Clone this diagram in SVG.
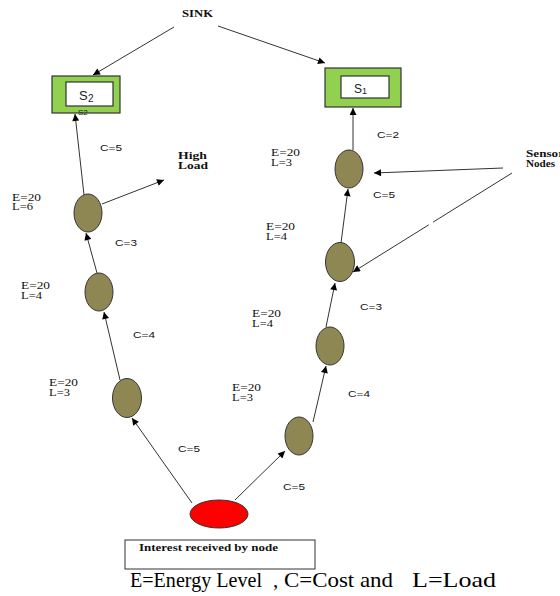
<svg xmlns="http://www.w3.org/2000/svg" width="560" height="596" viewBox="0 0 560 596">
<style>
.edge{stroke:#333;stroke-width:1;fill:none;marker-end:url(#ah)}
.sensor{fill:#8f8753;stroke:#333;stroke-width:1}
.src{fill:#ff0000;stroke:#333;stroke-width:1}
.sink{fill:#92d050;stroke:#333;stroke-width:1.2}
.inner{fill:#fff;stroke:#333;stroke-width:1.2}
.el{font-family:"Liberation Serif",serif;font-size:9.5px;fill:#111}
.c{font-family:"Liberation Sans",sans-serif;font-size:8.5px;fill:#111}
.b{font-family:"Liberation Serif",serif;font-size:9.5px;font-weight:bold;fill:#111}
.s{font-family:"Liberation Sans",sans-serif;fill:#222}
.cap{font-family:"Liberation Serif",serif;font-size:21px;fill:#000}
</style>
<defs>
<marker id="ah" viewBox="0 0 10 10" refX="10" refY="5" markerWidth="9" markerHeight="7" markerUnits="userSpaceOnUse" orient="auto">
<path d="M0,0 L10,5 L0,10 z" fill="#000"/>
</marker>
</defs>
<rect width="560" height="596" fill="#fff"/>

<g id="connectors">
<line class="edge" x1="174" y1="27" x2="93" y2="75"/>
<line class="edge" x1="218" y1="26" x2="325" y2="63"/>
<line class="edge" x1="84" y1="195" x2="75" y2="114"/>
<line class="edge" x1="102" y1="204" x2="164" y2="180"/>
<line class="edge" x1="97" y1="273" x2="86" y2="233"/>
<line class="edge" x1="120" y1="380" x2="104" y2="312"/>
<line class="edge" x1="192" y1="503" x2="132" y2="418"/>
<line class="edge" x1="235" y1="500" x2="285" y2="451"/>
<line class="edge" x1="313" y1="422" x2="326" y2="366"/>
<line class="edge" x1="326" y1="327" x2="335" y2="283"/>
<line class="edge" x1="341" y1="243" x2="348" y2="189"/>
<line class="edge" x1="353" y1="150" x2="353" y2="108"/>
<line class="edge" x1="503" y1="168" x2="374" y2="173"/>
<line class="edge" x1="512" y1="173" x2="353" y2="272" stroke-dasharray="93 5 200"/>
</g>

<g id="sink-label"><text class="b" x="182" y="17" textLength="31" lengthAdjust="spacingAndGlyphs">SINK</text></g>

<g id="S2">
<rect class="sink" x="52" y="76" width="68" height="37"/>
<rect class="inner" x="66" y="82" width="47" height="24"/>
<text class="s" x="79" y="100" font-size="13">S</text>
<text class="s" x="88" y="102" font-size="10">2</text>
<text class="s" x="78" y="115" font-size="8" fill="#555">S2</text>
</g>

<g id="S1">
<rect class="sink" x="325" y="68" width="76" height="39"/>
<rect class="inner" x="341" y="76" width="48" height="22"/>
<text class="s" x="354" y="93" font-size="12">S</text>
<text class="s" x="362" y="94" font-size="9">1</text>
</g>

<g id="L1"><ellipse class="sensor" cx="88" cy="213" rx="14" ry="19"/></g>
<g id="L2"><ellipse class="sensor" cx="99" cy="292" rx="14" ry="19"/></g>
<g id="L3"><ellipse class="sensor" cx="127" cy="398" rx="14.5" ry="19.5"/></g>
<g id="R1"><ellipse class="sensor" cx="299" cy="436" rx="14" ry="19"/></g>
<g id="R2"><ellipse class="sensor" cx="330" cy="346" rx="14" ry="19"/></g>
<g id="R3"><ellipse class="sensor" cx="340" cy="262" rx="14.5" ry="19.5"/></g>
<g id="R4"><ellipse class="sensor" cx="349" cy="169" rx="14" ry="19"/></g>
<g id="source"><ellipse class="src" cx="219" cy="514" rx="29" ry="14"/></g>

<g id="high-load">
<text class="b" x="178" y="159" textLength="29" lengthAdjust="spacingAndGlyphs">High</text>
<text class="b" x="178" y="169" textLength="30" lengthAdjust="spacingAndGlyphs">Load</text>
</g>

<g id="sensor-nodes">
<text class="b" x="526" y="157" textLength="38" lengthAdjust="spacingAndGlyphs">Sensor</text>
<text class="b" x="526" y="167" textLength="29" lengthAdjust="spacingAndGlyphs">Nodes</text>
</g>

<g id="labels">
<text class="c" x="100" y="151" textLength="22" lengthAdjust="spacingAndGlyphs">C=5</text>
<text class="el" x="12" y="201" textLength="29" lengthAdjust="spacingAndGlyphs">E=20</text>
<text class="el" x="12" y="210" textLength="21" lengthAdjust="spacingAndGlyphs">L=6</text>
<text class="c" x="115" y="246" textLength="22" lengthAdjust="spacingAndGlyphs">C=3</text>
<text class="el" x="21" y="289" textLength="29" lengthAdjust="spacingAndGlyphs">E=20</text>
<text class="el" x="21" y="299" textLength="21" lengthAdjust="spacingAndGlyphs">L=4</text>
<text class="c" x="133" y="338" textLength="22" lengthAdjust="spacingAndGlyphs">C=4</text>
<text class="el" x="49" y="386" textLength="29" lengthAdjust="spacingAndGlyphs">E=20</text>
<text class="el" x="49" y="396" textLength="21" lengthAdjust="spacingAndGlyphs">L=3</text>
<text class="c" x="178" y="452" textLength="22" lengthAdjust="spacingAndGlyphs">C=5</text>

<text class="c" x="377" y="138" textLength="22" lengthAdjust="spacingAndGlyphs">C=2</text>
<text class="el" x="271" y="156" textLength="29" lengthAdjust="spacingAndGlyphs">E=20</text>
<text class="el" x="271" y="166" textLength="21" lengthAdjust="spacingAndGlyphs">L=3</text>
<text class="c" x="373" y="198" textLength="22" lengthAdjust="spacingAndGlyphs">C=5</text>
<text class="el" x="266" y="230" textLength="29" lengthAdjust="spacingAndGlyphs">E=20</text>
<text class="el" x="266" y="240" textLength="21" lengthAdjust="spacingAndGlyphs">L=4</text>
<text class="c" x="360" y="310" textLength="22" lengthAdjust="spacingAndGlyphs">C=3</text>
<text class="el" x="252" y="317" textLength="29" lengthAdjust="spacingAndGlyphs">E=20</text>
<text class="el" x="252" y="327" textLength="21" lengthAdjust="spacingAndGlyphs">L=4</text>
<text class="c" x="348" y="397" textLength="22" lengthAdjust="spacingAndGlyphs">C=4</text>
<text class="el" x="232" y="391" textLength="29" lengthAdjust="spacingAndGlyphs">E=20</text>
<text class="el" x="232" y="401" textLength="21" lengthAdjust="spacingAndGlyphs">L=3</text>
<text class="c" x="283" y="490" textLength="22" lengthAdjust="spacingAndGlyphs">C=5</text>
</g>

<g id="interest">
<rect x="125" y="540" width="190" height="29" fill="#fff" stroke="#333" stroke-width="1"/>
<text class="b" x="139" y="551" textLength="139" lengthAdjust="spacingAndGlyphs">Interest received by node</text>
</g>

<g id="caption">
<text class="cap" x="130" y="587" textLength="132" lengthAdjust="spacingAndGlyphs">E=Energy Level</text>
<text class="cap" x="273" y="587">,</text>
<text class="cap" x="284" y="587" textLength="109" lengthAdjust="spacingAndGlyphs">C=Cost and</text>
<text class="cap" x="412" y="587" textLength="84" lengthAdjust="spacingAndGlyphs">L=Load</text>
</g>
</svg>
